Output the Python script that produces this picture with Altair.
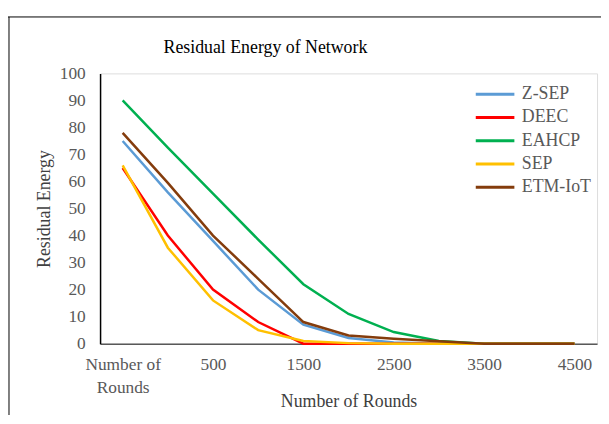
import altair as alt
import pandas as pd

rounds = ["Number of Rounds", "0", "500", "1000", "1500", "2000", "2500", "3000", "3500", "4000", "4500"]
series = ["Z-SEP", "DEEC", "EAHCP", "SEP", "ETM-IoT"]
zsep = [75, 56, 38, 20, 7, 2.1, 0.4, 0, 0, 0, 0]
deec = [65, 40, 20, 8, 0, 0, 0, 0, 0, 0, 0]
eahcp = [90, 72.5, 55.5, 38.5, 22, 11, 4.3, 1, 0, 0, 0]
sep = [66, 35.5, 16, 5, 1, 0.2, 0, 0, 0, 0, 0]
etm = [78, 59.5, 40, 24, 8, 3, 1.8, 0.9, 0, 0, 0]
colors = ["#5B9BD5", "#FF0000", "#00B050", "#FFC000", "#843C0C"]
shown_labels = ["500", "1500", "2500", "3500", "4500"]
chart_title = "Residual Energy of Network"

rows = []
for name, vals in zip(series, [zsep, deec, eahcp, sep, etm]):
    for r, v in zip(rounds, vals):
        rows.append({"Rounds": r, "Energy": v, "Series": name})
df = pd.DataFrame(rows)

FONT = "Liberation Serif"
label_expr = (
    "datum.value == 'Number of Rounds' ? ['Number of', 'Rounds'] : "
    "(indexof(" + str(shown_labels).replace('"', "'") + ", datum.value) >= 0 ? datum.value : '')"
)

lines = alt.Chart(df).mark_line(strokeWidth=2.5).encode(
    x=alt.X(
        "Rounds:N",
        sort=rounds,
        scale=alt.Scale(type="point", padding=0.5),
        axis=alt.Axis(
            title="Number of Rounds",
            labelExpr=label_expr,
            labelAngle=0,
            labelOverlap=False,
            ticks=False,
            labelPadding=12,
            labelLineHeight=23,
            labelFontSize=17.5,
            labelColor="#595959",
            labelFont=FONT,
            titleFont=FONT,
            titleFontSize=18,
            titleFontWeight="normal",
            titleColor="#404040",
            titleY=49,
            titleBaseline="top",
            domainColor="#595959",
            domainWidth=1.5,
            grid=False,
        ),
    ),
    y=alt.Y(
        "Energy:Q",
        scale=alt.Scale(domain=[0, 100]),
        axis=alt.Axis(
            title="Residual Energy",
            values=list(range(0, 101, 10)),
            ticks=False,
            labelPadding=15,
            labelFontSize=17.5,
            labelColor="#595959",
            labelFont=FONT,
            titleFont=FONT,
            titleFontSize=18,
            titleFontWeight="normal",
            titleColor="#404040",
            titlePadding=6,
            domainColor="#000000",
            domainWidth=1.5,
            grid=False,
        ),
    ),
    color=alt.Color(
        "Series:N",
        sort=series,
        scale=alt.Scale(domain=series, range=colors),
        legend=alt.Legend(
            title=None,
            orient="none",
            legendX=390,
            legendY=12,
            symbolType="M-3,0H3",
            symbolSize=169,
            symbolStrokeWidth=3,
            labelOffset=18,
            labelFont=FONT,
            labelFontSize=18,
            labelColor="#595959",
            rowPadding=5.5,
            padding=0,
        ),
    ),
)

frame_df = pd.DataFrame({"k": [0]})
top_border = alt.Chart(frame_df).mark_rule(color="#000000", strokeWidth=1).encode(
    x=alt.value(-93), x2=alt.value(510), y=alt.value(-57)
)
left_border = alt.Chart(frame_df).mark_rule(color="#000000", strokeWidth=1).encode(
    x=alt.value(-92), y=alt.value(-57), y2=alt.value(360)
)
title_text = alt.Chart(frame_df).mark_text(
    font=FONT, fontSize=18, color="#000000", align="center", baseline="alphabetic"
).encode(
    text=alt.value(chart_title), x=alt.value(167), y=alt.value(-21)
)

chart = (
    alt.layer(lines, top_border, left_border, title_text)
    .properties(
        width=502,
        height=273,
        autosize=alt.AutoSizeParams(type="none"),
        padding={"left": 93, "top": 64, "right": 4, "bottom": 70},
    )
    .configure_view(stroke="#808080", strokeWidth=1.5)
    .configure_axis(labelFont=FONT, titleFont=FONT)
    .configure_legend(labelFont=FONT)
    .configure(background="white", font=FONT)
)

chart.save("out.html", embed_options={"renderer": "svg", "actions": False})
